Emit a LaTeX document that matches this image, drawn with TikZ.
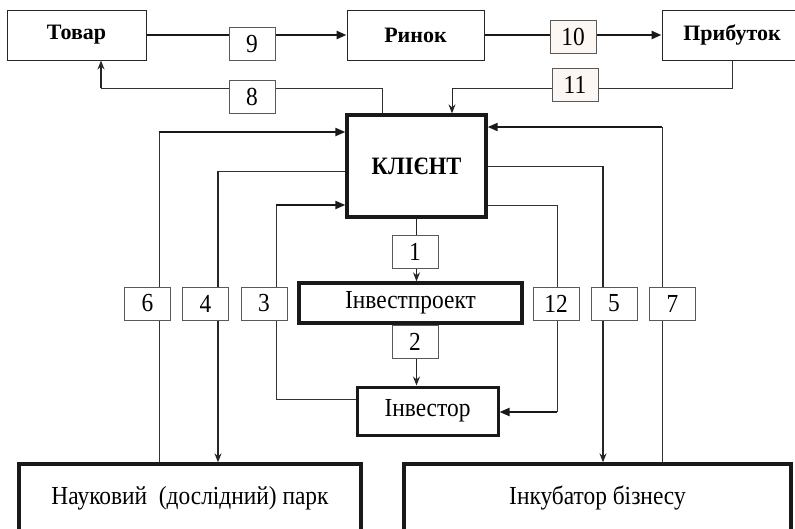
\documentclass[tikz,border=0pt]{standalone}
\usepackage{fontspec}
\setmainfont{Liberation Serif}
\newfontfamily\narrowfont[FakeStretch=0.9]{Liberation Serif}
\usetikzlibrary{arrows.meta, positioning}
\definecolor{cream}{HTML}{FCF7F2}

\begin{document}
\begin{tikzpicture}[x=1pt, y=1pt,
    box/.style={draw=black!85, line width=1pt, fill=white, inner sep=0pt, font=\fontsize{22}{24}\selectfont\bfseries},
    mainbox/.style={draw=black!90, line width=3.3pt, fill=white, inner sep=0pt, font=\narrowfont\fontsize{26}{28}\selectfont},
    numbox/.style={draw=black!65, line width=0.9pt, fill=white, minimum width=46pt, minimum height=33pt, inner sep=0pt, font=\narrowfont\fontsize{26}{28}\selectfont},
    link/.style={draw=black!80, line width=0.9pt},
    heavy/.style={draw=black!90, line width=2pt, -{Triangle[length=10pt,width=8pt]}},
    arr/.style={draw=black!85, line width=1.4pt, -{Stealth[length=9pt,width=7pt]}},
  ]
  \useasboundingbox (0,0) rectangle (795,-528);
  \fill[white] (0,0) rectangle (795,-528);
  \clip (0,0) rectangle (795,-528);

  % top row
  \node[box, minimum width=139pt, minimum height=50pt] (tovar) at (76.5,-35) {Товар};
  \node[box, minimum width=137pt, minimum height=50pt] (rynok) at (415.5,-35) {Ринок};
  \node[box, minimum width=140pt, minimum height=50pt] (prybutok) at (732,-35) {Прибуток};

  % centre
  \node[mainbox, minimum width=139pt, minimum height=102pt, font=\narrowfont\fontsize{25}{28}\selectfont\bfseries] (client) at (416.5,-166) {КЛІЄНТ};
  \node[mainbox, minimum width=223pt, minimum height=40pt] (proekt) at (410.5,-303) {Інвестпроект};
  \node[mainbox, line width=3pt, minimum width=141pt, minimum height=48pt] (investor) at (427.5,-411) {Інвестор};

  % bottom row
  \node[mainbox, minimum width=342pt, minimum height=68pt] (park) at (190,-498) {Науковий\ \ (дослідний) парк};
  \node[mainbox, minimum width=387pt, minimum height=68pt] (incub) at (597.5,-498) {Інкубатор бізнесу};

  % corners
  \coordinate (c8) at (382,-88);
  \coordinate (c8b) at (101,-88);
  \coordinate (c11) at (732,-88);
  \coordinate (c11b) at (452,-88);
  \coordinate (c6) at (159,-132);
  \coordinate (c4) at (218,-171);
  \coordinate (c3) at (276,-205);
  \coordinate (c3b) at (276,-399);
  \coordinate (c12) at (557,-205);
  \coordinate (c12b) at (557,-412);
  \coordinate (c5) at (603,-166);
  \coordinate (c7) at (662,-127);

  % links
  \draw[heavy, line width=2.6pt] (tovar.east) -- (rynok.west);
  \draw[heavy, line width=2.6pt] (rynok.east) -- (prybutok.west);
  \draw[link] (client.north -| c8) -- (c8) -- (c8b);
  \draw[arr] (c8b) -- (tovar.south -| c8b);
  \draw[link] (prybutok.south) -- (c11) -- (c11b);
  \draw[arr, line width=1pt] (c11b) -- (client.north -| c11b);
  \draw[arr] (client.south) -- (proekt.north -| client.south);
  \draw[arr] (proekt.south -| client.south) -- (investor.north -| client.south);
  \draw[link] (park.north -| c6) -- (c6);
  \draw[heavy] (c6) -- (client.west |- c6);
  \draw[link] (client.west |- c4) -- (c4);
  \draw[arr] (c4) -- (park.north -| c4);
  \draw[link] (investor.west |- c3b) -- (c3b) -- (c3);
  \draw[heavy] (c3) -- (client.west |- c3);
  \draw[link] (client.east |- c12) -- (c12) -- (c12b);
  \draw[heavy] (c12b) -- (investor.east |- c12b);
  \draw[link] (client.east |- c5) -- (c5);
  \draw[arr] (c5) -- (incub.north -| c5);
  \draw[link] (incub.north -| c7) -- (c7);
  \draw[heavy] (c7) -- (client.east |- c7);

  % numbers
  \node[numbox] (n9) at (252,-44) {9};
  \node[numbox, fill=cream] (n10) at (573,-36.5) {10};
  \node[numbox] (n8) at (252,-96.5) {8};
  \node[numbox, fill=cream] (n11) at (575,-84.5) {11};
  \node[numbox] (n1) at (415,-251.5) {1};
  \node[numbox] (n2) at (415,-342) {2};
  \node[numbox] (n6) at (147.5,-303.5) {6};
  \node[numbox] (n4) at (205.5,-303.5) {4};
  \node[numbox] (n3) at (264,-303.5) {3};
  \node[numbox] (n12) at (556,-303.5) {12};
  \node[numbox] (n5) at (614,-303.5) {5};
  \node[numbox] (n7) at (672.5,-303.5) {7};
\end{tikzpicture}
\end{document}
